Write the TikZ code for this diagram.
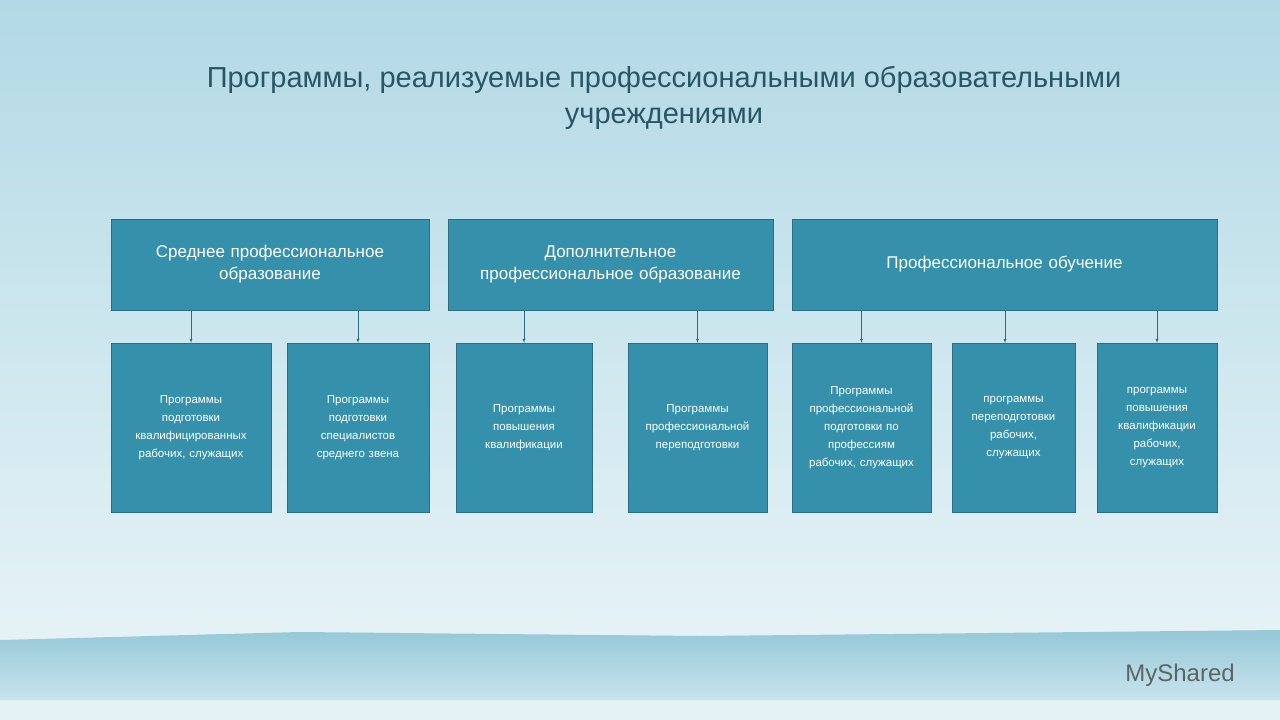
\documentclass[tikz,border=0pt]{standalone}
\usepackage{fontspec}
\setmainfont{Liberation Sans}
\begin{document}
\begin{tikzpicture}[x=1pt,y=-1pt,
 box/.style={draw=boxb,fill=boxf,text=white,align=center,inner sep=2pt},
 top/.style={box,font=\fontsize{17}{22}\selectfont},
 sub/.style={box,font=\fontsize{11.5}{18}\selectfont},
 arr/.style={draw=boxb,-latex}]
\definecolor{boxf}{HTML}{3591AB}
\definecolor{boxb}{HTML}{2A6E84}
\definecolor{tt}{HTML}{2A5563}
\definecolor{bgtop}{RGB}{178,217,229}
\definecolor{bgbot}{RGB}{228,242,246}
\definecolor{seat}{RGB}{150,200,215}
\definecolor{seab}{RGB}{200,228,236}
\definecolor{logoc}{RGB}{90,100,105}
\useasboundingbox (0,0) rectangle (1280,720);
\shade[top color=bgtop,bottom color=bgbot] (0,0) rectangle (1280,620);
\fill[bgbot] (0,620) rectangle (1280,720);
\shade[top color=seat,bottom color=seab] (0,640) -- (300,632) -- (700,636) -- (1280,630) -- (1280,700) -- (0,700) -- cycle;
\node[text=tt,align=center,font=\fontsize{29}{36}\selectfont] (title) at (664,98) {Программы, реализуемые профессиональными образовательными\\учреждениями};
\node[top,minimum width=318,minimum height=91,text width=300] (t1) at (270,264.5) {Среднее профессиональное\\образование};
\node[top,minimum width=325,minimum height=91,text width=310] (t2) at (610.5,264.5) {Дополнительное\\профессиональное образование};
\node[top,minimum width=425,minimum height=91,text width=400] (t3) at (1004.5,264.5) {Профессиональное обучение};
\node[sub,minimum width=160,minimum height=169,text width=150] (b1) at (191,427.5) {Программы\\подготовки\\квалифицированных\\рабочих, служащих};
\node[sub,minimum width=142,minimum height=169,text width=134] (b2) at (358,427.5) {Программы\\подготовки\\специалистов\\среднего звена};
\node[sub,minimum width=136,minimum height=169,text width=128] (b3) at (524,427.5) {Программы\\повышения\\квалификации};
\node[sub,minimum width=139,minimum height=169,text width=132] (b4) at (697.5,427.5) {Программы\\профессиональной\\переподготовки};
\node[sub,minimum width=139,minimum height=169,text width=132] (b5) at (861.5,427.5) {Программы\\профессиональной\\подготовки по\\профессиям\\рабочих, служащих};
\node[sub,minimum width=123,minimum height=169,text width=116] (b6) at (1013.5,427.5) {программы\\переподготовки\\рабочих,\\служащих};
\node[sub,minimum width=120,minimum height=169,text width=113] (b7) at (1157,427.5) {программы\\повышения\\квалификации\\рабочих,\\служащих};
\foreach \t/\b in {t1/b1,t1/b2,t2/b3,t2/b4,t3/b5,t3/b7}
  \draw[arr] (\b.north |- \t.south) -- (\b.north);
\coordinate (c6) at (1005,343);
\draw[arr] (c6 |- t3.south) -- (c6);
\node[text=logoc,font=\fontsize{24}{24}\selectfont] (logo) at (1180,675) {MyShared};
\end{tikzpicture}
\end{document}
